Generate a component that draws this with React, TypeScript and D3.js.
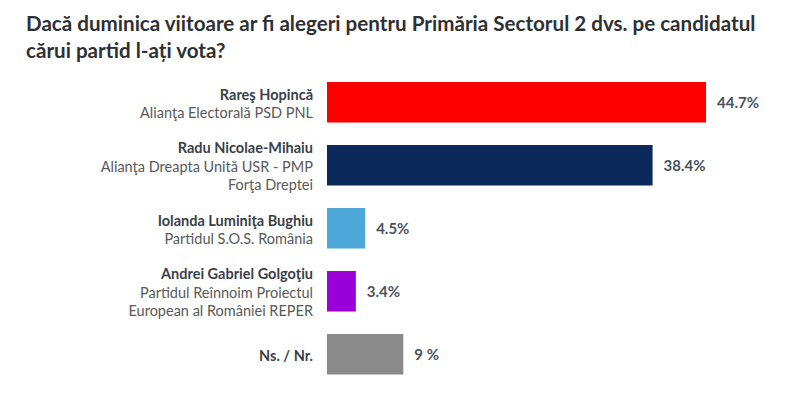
import { useEffect, useRef } from 'react';
import * as d3 from 'd3';

const titleLines = [
  'Dacă duminica viitoare ar fi alegeri pentru Primăria Sectorul 2 dvs. pe candidatul',
  'cărui partid l-ați vota?',
];
const candidates = [
  'Rareş Hopincă',
  'Radu Nicolae-Mihaiu',
  'Iolanda Luminiţa Bughiu',
  'Andrei Gabriel Golgoţiu',
  'Ns. / Nr.',
];
const parties = [
  ['Alianţa Electorală PSD PNL'],
  ['Alianţa Dreapta Unită USR - PMP', 'Forţa Dreptei'],
  ['Partidul S.O.S. România'],
  ['Partidul Reînnoim Proiectul', 'European al României REPER'],
  [],
];
const values = [44.7, 38.4, 4.5, 3.4, 9];
const valueLabels = ['44.7%', '38.4%', '4.5%', '3.4%', '9 %'];
const colors = ['#ff0000', '#0b2a5b', '#4ca6d8', '#9a00d8', '#8a8a8a'];

const App = () => {
  const svgRef = useRef<SVGSVGElement>(null!);

  useEffect(() => {
    const width = 800;
    const height = 401;
    const font = 'Lato, "Open Sans", sans-serif';
    const x0 = 327;
    const lineH = 18.5;

    const svg = d3
      .select(svgRef.current)
      .attr('width', width)
      .attr('height', height)
      .style('font-family', font);

    svg
      .append('rect')
      .attr('width', width)
      .attr('height', height)
      .attr('fill', '#ffffff');

    svg
      .selectAll('text.title')
      .data(titleLines)
      .enter()
      .append('text')
      .attr('class', 'title')
      .attr('x', 26)
      .attr('y', (_, i) => 31 + i * 27)
      .attr('font-size', 20.6)
      .attr('font-weight', 'bold')
      .attr('fill', '#2e3033')
      .text(d => d);

    const xScale = d3
      .scaleLinear()
      .domain([0, d3.max(values) ?? 0])
      .range([0, 379]);
    const yScale = d3
      .scaleBand<string>()
      .domain(candidates)
      .range([82, 374.5])
      .paddingInner(0.357)
      .paddingOuter(0);

    const rows = svg
      .selectAll('g.row')
      .data(candidates)
      .enter()
      .append('g')
      .attr('class', 'row');

    rows
      .append('rect')
      .attr('x', x0)
      .attr('y', d => yScale(d) ?? 0)
      .attr('width', (_, i) => xScale(values[i]))
      .attr('height', yScale.bandwidth())
      .attr('fill', (_, i) => colors[i]);

    rows
      .append('text')
      .attr('x', (_, i) => x0 + xScale(values[i]) + 11)
      .attr('y', d => (yScale(d) ?? 0) + yScale.bandwidth() / 2 + 5.5)
      .attr('font-size', 15)
      .attr('font-weight', 'bold')
      .attr('fill', '#4a525e')
      .text((_, i) => valueLabels[i]);

    rows.each(function (d, i) {
      const lines = [d, ...parties[i]];
      const cy = (yScale(d) ?? 0) + yScale.bandwidth() / 2;
      const first = cy - ((lines.length - 1) * lineH) / 2 + 6.5;
      d3.select(this)
        .selectAll('text.label')
        .data(lines)
        .enter()
        .append('text')
        .attr('class', 'label')
        .attr('x', 313)
        .attr('y', (_, j) => first + j * lineH)
        .attr('text-anchor', 'end')
        .attr('font-size', 14.5)
        .attr('font-weight', (_, j) => (j === 0 ? 'bold' : 'normal'))
        .attr('fill', (_, j) => (j === 0 ? '#3a3f48' : '#595959'))
        .text(t => t);
    });

    return () => {
      svgRef.current.innerHTML = '';
    };
  }, []);

  return <svg ref={svgRef} style={{ position: 'absolute', left: 0, top: 0 }}></svg>;
};

export default App;
